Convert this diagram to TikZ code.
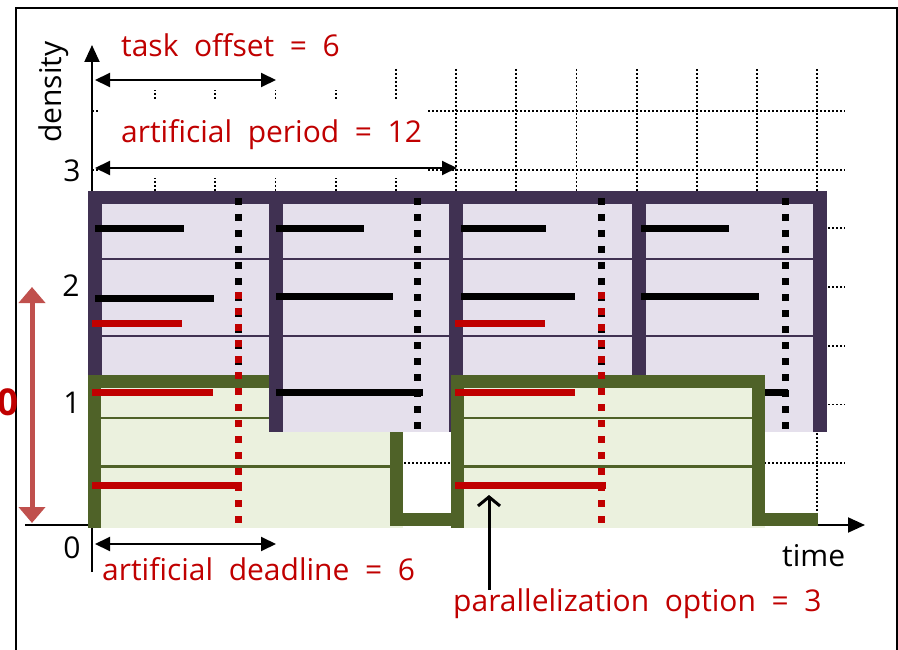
\documentclass[tikz,border=0pt]{standalone}
\usepackage{fontspec}
\setmainfont[WordSpace=2]{Open Sans}
\usetikzlibrary{arrows.meta}
\definecolor{pd}{RGB}{64,49,82}
\definecolor{pl}{RGB}{229,224,236}
\definecolor{gd}{RGB}{79,98,40}
\definecolor{gl}{RGB}{235,241,222}
\definecolor{rd}{RGB}{192,0,0}
\definecolor{rs}{RGB}{192,80,77}
\tikzset{
  gridline/.style={draw=black, line width=1.8pt, dash pattern=on 1.8pt off 2.2pt},
  pborder/.style={draw=pd, line width=14pt},
  ptop/.style={draw=pd, line width=13pt},
  pdiv/.style={draw=pd, line width=2.5pt},
  gborder/.style={draw=gd, line width=13pt, line join=miter},
  gdiv/.style={draw=gd, line width=2.5pt},
  bbar/.style={draw=black, line width=7pt},
  rbar/.style={draw=rd, line width=7pt},
  bdots/.style={draw=black, line width=7pt, dash pattern=on 7pt off 9pt},
  rdots/.style={draw=rd, line width=7pt, dash pattern=on 7pt off 9pt},
  dimarrow/.style={draw=black, line width=2pt, {Triangle[length=15pt,width=14pt]}-{Triangle[length=15pt,width=14pt]}},
  axisarrow/.style={draw=black, line width=2pt, -{Triangle[length=17pt,width=15pt]}},
  lbl/.style={font=\fontsize{30}{35}\selectfont, inner sep=0pt, text=black},
  redlbl/.style={lbl, text=rd},
}
\begin{document}
\begin{tikzpicture}[x=1pt,y=-1pt]
\useasboundingbox (0,0) rectangle (898,650);
\begin{scope}
\clip (0,0) rectangle (898,650);
% frame
\draw[line width=2pt] (16,660) -- (16,8) -- (897,8) -- (897,660);
% grid
\foreach \k in {1,...,12} {
  \draw[gridline] ({94.8+60.2*\k},69) -- ({94.8+60.2*\k},525);
}
\foreach \yy in {111,169.7,228.4,287,345.8,404.5,463.2} {
  \draw[gridline] (92,\yy) -- (845,\yy);
}
% white covers behind labels
\fill[white] (95,20) rectangle (370,90);
\fill[white] (100,100) rectangle (428,178);
% axes
\coordinate (yb) at (92,572);
\coordinate (yt) at (92,45);
\coordinate (xl) at (25,525);
\coordinate (xr) at (865,525);
\draw[axisarrow] (yb) -- (yt);
\draw[axisarrow] (xl) -- (xr);
% dimension arrows
\coordinate (to1) at (95,80);
\coordinate (to2) at (276,80);
\coordinate (ap1) at (95,168);
\coordinate (ap2) at (457,168);
\coordinate (ad1) at (95,544);
\coordinate (ad2) at (276,544);
\draw[dimarrow] (to1) -- (to2);
\draw[dimarrow] (ap1) -- (ap2);
\draw[dimarrow] (ad1) -- (ad2);
% ---------- purple box 1
\fill[pl] (88,191) rectangle (276,432);
\draw[pdiv] (94.5,259) -- (276,259);
\draw[pdiv] (94.5,336) -- (276,336);
\draw[pborder] (94.5,191) -- (94.5,432);
\draw[ptop] (88,197.5) -- (827,197.5);
\draw[bbar] (95,229) -- (184,229);
\draw[bbar] (95,298) -- (214,298);
\draw[bdots] (238.5,198) -- (238.5,430);
% ---------- green box 1
\fill[gl] (88,375) rectangle (403,528);
\draw[gdiv] (101,418) -- (390,418);
\draw[gdiv] (101,466.5) -- (390,466.5);
\draw[gborder] (94.5,528) -- (94.5,381.5) -- (396,381.5) -- (396,519.5) -- (457,519.5);
% ---------- purple boxes 2-4
\fill[pl] (276,191) rectangle (827,432);
\draw[pdiv] (276,259) -- (820,259);
\draw[pdiv] (276,336) -- (820,336);
\foreach \xx in {276,456,638.5,820} {
  \draw[pborder] (\xx,191) -- (\xx,432);
}
\draw[ptop] (269,197.5) -- (827,197.5);
\draw[bbar] (276,229) -- (364,229);
\draw[bbar] (276,296) -- (393,296);
\draw[bbar] (276,392) -- (423,392);
\draw[bbar] (461,229) -- (546,229);
\draw[bbar] (461,296) -- (575,296);
\draw[bbar] (641,229) -- (729,229);
\draw[bbar] (641,296) -- (759,296);
\draw[bbar] (641,392) -- (788,392);
\draw[bdots] (417,198) -- (417,430);
\draw[bdots] (601,198) -- (601,430);
\draw[bdots] (785,198) -- (785,430);
% ---------- green box 2
\fill[gl] (451,375) rectangle (765,528);
\draw[gdiv] (463,418) -- (752,418);
\draw[gdiv] (463,466.5) -- (752,466.5);
\draw[gborder] (457,528) -- (457,381.5) -- (758.5,381.5) -- (758.5,519.5) -- (818,519.5);
% ---------- red items
\draw[rbar] (92,323) -- (182,323);
\draw[rbar] (92,392) -- (213,392);
\draw[rbar] (92,485.5) -- (242,485.5);
\draw[rbar] (455,323) -- (545,323);
\draw[rbar] (455,392) -- (575,392);
\draw[rbar] (455,485.5) -- (606,485.5);
\draw[rdots] (238.5,292) -- (238.5,523);
\draw[rdots] (601,292) -- (601,523);
% red double arrow
\coordinate (ra1) at (32,287);
\coordinate (ra2) at (32,523);
\draw[draw=rs, line width=5pt, {Triangle[length=16pt,width=26pt]}-{Triangle[length=16pt,width=26pt]}] (ra1) -- (ra2);
\node[anchor=base east, inner sep=0pt, text=rd, font=\fontsize{37}{40}\selectfont\bfseries] (bz) at (18.5,415) {0};
% labels
\node[redlbl, anchor=base west] (lto) at (121,57) {task offset = 6};
\node[redlbl, anchor=base west] (lap) at (121,143) {artificial period = 12};
\node[redlbl, anchor=base west] (lad) at (102,580) {artificial deadline = 6};
\node[redlbl, anchor=base west] (lpo) at (453,611) {parallelization option = 3};
\node[lbl, anchor=base west] (ltime) at (782,566) {time};
\node[lbl, anchor=base west, rotate=90] (ldens) at (61,143) {density};
\node[lbl, anchor=base] (y3) at (72,182) {3};
\node[lbl, anchor=base] (y2) at (71,297) {2};
\node[lbl, anchor=base] (y1) at (72,413) {1};
\node[lbl, anchor=base] (y0) at (72,558) {0};
% parallelization pointer
\coordinate (pa1) at (489,590);
\coordinate (pa2) at (489,495);
\draw[line width=3pt, -{Straight Barb[length=9pt,width=22pt]}] (pa1) -- (pa2);
\end{scope}
\end{tikzpicture}
\end{document}
